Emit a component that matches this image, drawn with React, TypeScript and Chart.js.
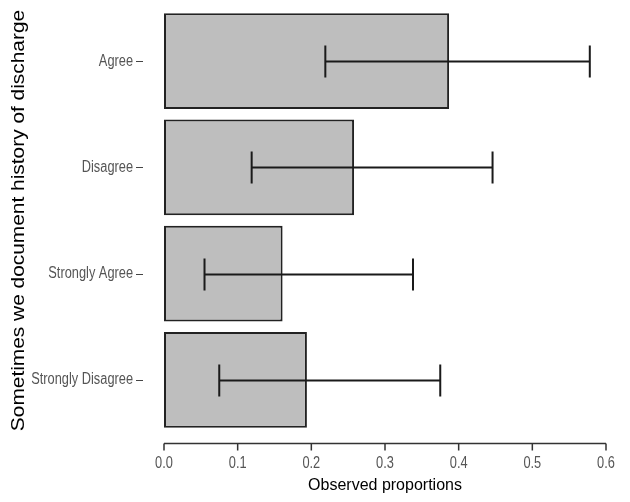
import { useEffect, useRef } from "react";
import { Chart, registerables } from "chart.js";

Chart.register(...registerables);

// Response categories, top to bottom
const categories = ["Agree", "Disagree", "Strongly Agree", "Strongly Disagree"];
// Observed proportion per category
const proportions = [0.387, 0.258, 0.161, 0.194];
// Confidence interval bounds
const lowerCI = [0.219, 0.119, 0.055, 0.075];
const upperCI = [0.578, 0.446, 0.338, 0.375];
// Tick values of the proportion axis
const xTicks = [0, 0.1, 0.2, 0.3, 0.4, 0.5, 0.6];
const xTickLabels = ["0.0", "0.1", "0.2", "0.3", "0.4", "0.5", "0.6"];

const xTitle = "Observed proportions";
const yTitle = "Sometimes we document history of discharge";

const sansFont = '"Liberation Sans", Arial, Helvetica, sans-serif';

// Confidence interval whiskers with end caps
const errorBarPlugin = {
  id: "errorBars",
  afterDatasetsDraw(chart: any) {
    const { ctx, scales } = chart;
    const xs = scales.x;
    const ys = scales.y;
    ctx.save();
    ctx.strokeStyle = "#1a1a1a";
    ctx.lineWidth = 2;
    const cap = 16;
    for (let i = 0; i < categories.length; i++) {
      const y = Math.round(ys.getPixelForValue(i)) + 0.5;
      const x1 = xs.getPixelForValue(lowerCI[i]);
      const x2 = xs.getPixelForValue(upperCI[i]);
      ctx.beginPath();
      ctx.moveTo(x1, y);
      ctx.lineTo(x2, y);
      ctx.moveTo(x1, y - cap);
      ctx.lineTo(x1, y + cap);
      ctx.moveTo(x2, y - cap);
      ctx.lineTo(x2, y + cap);
      ctx.stroke();
    }
    ctx.restore();
  },
};

// Condensed text helper
function narrowText(ctx: any, text: string, x: number, y: number, align: string) {
  ctx.save();
  ctx.translate(x, y);
  ctx.scale(0.8, 1);
  ctx.textAlign = align;
  ctx.textBaseline = "middle";
  ctx.fillText(text, 0, 0);
  ctx.restore();
}

// Detached axis line, tick marks, condensed tick labels and rotated y title
const axesPlugin = {
  id: "detachedAxes",
  afterDraw(chart: any) {
    const { ctx, scales, chartArea } = chart;
    const xs = scales.x;
    const ys = scales.y;
    ctx.save();
    ctx.strokeStyle = "#333";
    ctx.lineWidth = 1.5;
    const axisY = chartArea.bottom + 10.5;
    ctx.beginPath();
    ctx.moveTo(xs.getPixelForValue(xTicks[0]), axisY);
    ctx.lineTo(xs.getPixelForValue(xTicks[xTicks.length - 1]), axisY);
    for (const v of xTicks) {
      const x = xs.getPixelForValue(v);
      ctx.moveTo(x, axisY);
      ctx.lineTo(x, axisY + 7);
    }
    ctx.stroke();

    ctx.lineWidth = 1.2;
    ctx.strokeStyle = "#444";
    ctx.beginPath();
    for (let i = 0; i < categories.length; i++) {
      const y = Math.round(ys.getPixelForValue(i)) + 0.5;
      ctx.moveTo(chartArea.left - 28, y);
      ctx.lineTo(chartArea.left - 21, y);
    }
    ctx.stroke();

    ctx.fillStyle = "#555";
    ctx.font = `16px ${sansFont}`;
    for (let i = 0; i < categories.length; i++) {
      narrowText(ctx, categories[i], chartArea.left - 31, ys.getPixelForValue(i), "right");
    }
    xTicks.forEach((v, i) => {
      narrowText(ctx, xTickLabels[i], xs.getPixelForValue(v), axisY + 20, "center");
    });

    ctx.translate(11.5, (chartArea.top + chartArea.bottom) / 2);
    ctx.rotate(-Math.PI / 2);
    ctx.scale(1.16, 1);
    ctx.fillStyle = "#000";
    ctx.font = `18px ${sansFont}`;
    ctx.textAlign = "center";
    ctx.textBaseline = "middle";
    ctx.fillText(yTitle, 0, 0);
    ctx.restore();
  },
};

export default function App() {
  const canvasRef = useRef<HTMLCanvasElement | null>(null);

  useEffect(() => {
    if (!canvasRef.current) return;
    const chart = new Chart(canvasRef.current, {
      type: "bar",
      data: {
        labels: categories,
        datasets: [
          {
            data: proportions,
            backgroundColor: "#bebebe",
            borderColor: "#222",
            borderWidth: 2,
            borderSkipped: false,
            categoryPercentage: 1,
            barPercentage: 0.9,
          },
        ],
      },
      options: {
        indexAxis: "y",
        animation: false,
        responsive: true,
        maintainAspectRatio: false,
        layout: { padding: { top: 0, right: 16, bottom: 0, left: 0 } },
        plugins: {
          legend: { display: false },
          tooltip: { enabled: false },
        },
        scales: {
          x: {
            min: 0,
            max: 0.6,
            afterBuildTicks: (s: any) => {
              s.ticks = xTicks.map((v) => ({ value: v }));
            },
            afterFit: (s: any) => {
              s.height = 61;
              s.paddingLeft = 0;
              s.paddingRight = 0;
            },
            grid: { display: false, drawTicks: false },
            border: { display: false },
            ticks: { display: false },
            title: {
              display: true,
              text: xTitle,
              color: "#000",
              font: { family: sansFont, size: 16, lineHeight: 1 },
              padding: { top: 0, bottom: 0 },
            },
          },
          y: {
            afterFit: (s: any) => {
              s.width = 156;
              s.paddingTop = 0;
              s.paddingBottom = 0;
            },
            grid: { display: false, drawTicks: false },
            border: { display: false },
            ticks: { display: false },
          },
        },
      },
      plugins: [errorBarPlugin, axesPlugin],
    });
    return () => chart.destroy();
  }, []);

  return (
    <div style={{ width: 614, height: 486, position: "relative" }}>
      <canvas ref={canvasRef} />
    </div>
  );
}
